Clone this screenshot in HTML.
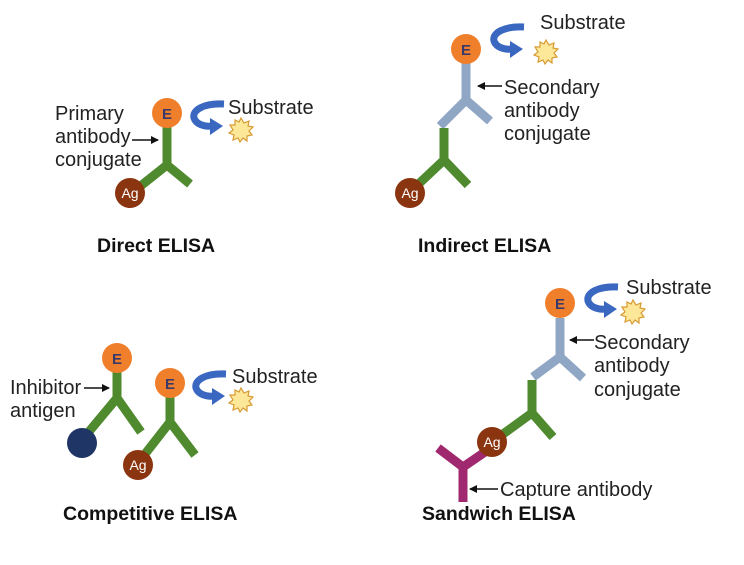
<!DOCTYPE html>
<html><head><style>
body{margin:0;background:#fff}
svg text{font-family:"Liberation Sans",sans-serif;font-size:20px;fill:#222}
.b{font-weight:bold;font-size:19.5px;fill:#111}
.e{font-size:15px;font-weight:bold;fill:#3a3a6a}
.ag{font-size:14px;fill:#fff}
</style></head><body>
<svg width="744" height="560" viewBox="0 0 744 560" xmlns="http://www.w3.org/2000/svg">
<defs>
<g id="cur">
<path d="M28 0 C8 -1 -4 6 -2 14 C0 20 8 23 16 22" fill="none" stroke="#3a67c0" stroke-width="7"/>
<polygon points="14,14 27,22 14,31" fill="#3a67c0"/>
</g>
<g id="sun">
<polygon points="0,-12 3,-7 8,-9 7,-4 12,-3 8,1 11,5 6,6 6,11 2,8 -1,12 -3,8 -8,10 -7,5 -12,3 -8,0 -11,-5 -6,-5 -6,-10 -2,-8" fill="#fde89a" stroke="#d89a30" stroke-width="1.2"/>
</g>
<marker id="ar" markerWidth="8" markerHeight="8" refX="7" refY="4" orient="auto" markerUnits="userSpaceOnUse"><polygon points="0,0 8,4 0,8" fill="#111"/></marker>
</defs>
<g stroke-width="9" fill="none" stroke-linecap="butt">
<path d="M167 125 V165 L133 192 M167 165 L190 184" stroke="#4f8a2e"/>
<path d="M466 62 V100 L440 126 M466 100 L490 121" stroke="#8fa6c4"/>
<path d="M444 128 V160 L410 192 M444 160 L468 185" stroke="#4f8a2e"/>
<path d="M117 370 V398 L82 440 M117 398 L141 432" stroke="#4f8a2e"/>
<path d="M170 395 V422 L138 463 M170 422 L195 455" stroke="#4f8a2e"/>
<path d="M560 318 V357 L533 377 M560 357 L583 378" stroke="#8fa6c4"/>
<path d="M532 380 V413 L492 442 M532 413 L553 437" stroke="#4f8a2e"/>
<path d="M463 502 V467 L438 448 M463 467 L485 452" stroke="#a0286e"/>
</g>
<g>
<circle cx="167" cy="113" r="15" fill="#f07f2c"/><text class="e" x="167" y="119" text-anchor="middle">E</text>
<circle cx="130" cy="193" r="15" fill="#8a3410"/><text class="ag" x="130" y="198" text-anchor="middle">Ag</text>
<circle cx="466" cy="49" r="15" fill="#f07f2c"/><text class="e" x="466" y="55" text-anchor="middle">E</text>
<circle cx="410" cy="193" r="15" fill="#8a3410"/><text class="ag" x="410" y="198" text-anchor="middle">Ag</text>
<circle cx="117" cy="358" r="15" fill="#f07f2c"/><text class="e" x="117" y="364" text-anchor="middle">E</text>
<circle cx="82" cy="443" r="15" fill="#1e3566"/>
<circle cx="170" cy="383" r="15" fill="#f07f2c"/><text class="e" x="170" y="389" text-anchor="middle">E</text>
<circle cx="138" cy="465" r="15" fill="#8a3410"/><text class="ag" x="138" y="470" text-anchor="middle">Ag</text>
<circle cx="560" cy="303" r="15" fill="#f07f2c"/><text class="e" x="560" y="309" text-anchor="middle">E</text>
<circle cx="492" cy="442" r="15" fill="#8a3410"/><text class="ag" x="492" y="447" text-anchor="middle">Ag</text>
</g>
<use href="#cur" x="196" y="104"/><use href="#sun" x="241" y="130"/>
<use href="#cur" x="496" y="27"/><use href="#sun" x="546" y="52"/>
<use href="#cur" x="198" y="374"/><use href="#sun" x="241" y="400"/>
<use href="#cur" x="590" y="287"/><use href="#sun" x="633" y="312"/>
<g stroke="#111" stroke-width="1.5">
<line x1="132" y1="140" x2="158" y2="140" marker-end="url(#ar)"/>
<line x1="502" y1="86" x2="478" y2="86" marker-end="url(#ar)"/>
<line x1="84" y1="388" x2="109" y2="388" marker-end="url(#ar)"/>
<line x1="594" y1="340" x2="570" y2="340" marker-end="url(#ar)"/>
<line x1="498" y1="489" x2="470" y2="489" marker-end="url(#ar)"/>
</g>
<text x="228" y="114">Substrate</text>
<text x="55" y="120">Primary</text><text x="55" y="143">antibody</text><text x="55" y="166">conjugate</text>
<text class="b" x="97" y="252">Direct ELISA</text>
<text x="540" y="29">Substrate</text>
<text x="504" y="94">Secondary</text><text x="504" y="117">antibody</text><text x="504" y="140">conjugate</text>
<text class="b" x="418" y="252">Indirect ELISA</text>
<text x="10" y="394">Inhibitor</text><text x="10" y="417">antigen</text>
<text x="232" y="383">Substrate</text>
<text class="b" x="63" y="520">Competitive ELISA</text>
<text x="626" y="294">Substrate</text>
<text x="594" y="349">Secondary</text><text x="594" y="372">antibody</text><text x="594" y="396">conjugate</text>
<text x="500" y="496">Capture antibody</text>
<text class="b" x="422" y="520">Sandwich ELISA</text>
</svg>
</body></html>
